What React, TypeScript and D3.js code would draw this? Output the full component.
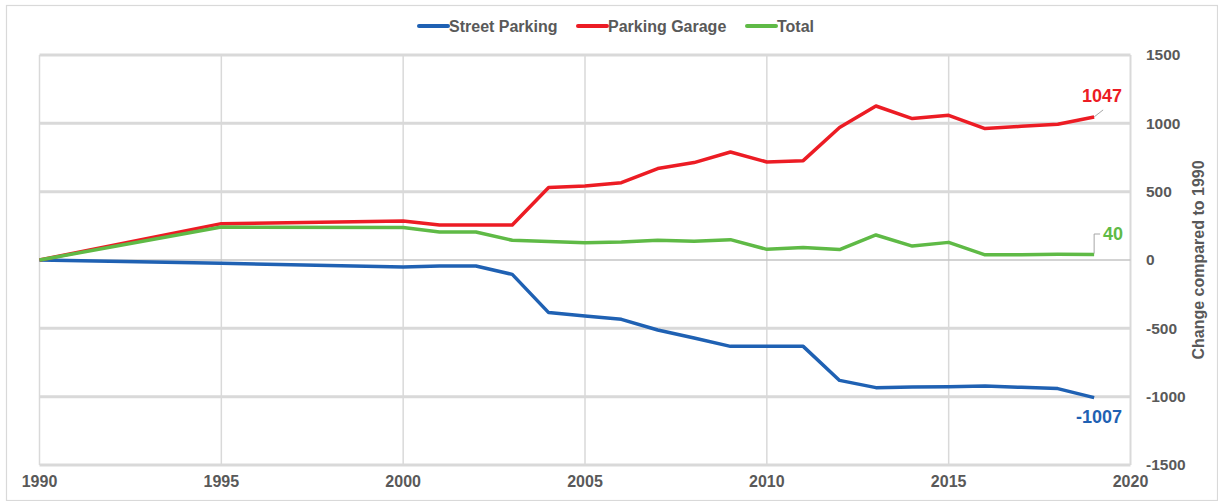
import React from "react";
import * as d3 from "d3";

const years = [1990, 1995, 2000, 2001, 2002, 2003, 2004, 2005, 2006, 2007, 2008, 2009, 2010, 2011, 2012, 2013, 2014, 2015, 2016, 2017, 2018, 2019];
const streetParking = [0, -24, -51, -44, -44, -105, -385, -410, -434, -512, -571, -632, -632, -632, -881, -934, -930, -927, -922, -932, -941, -1007];
const parkingGarage = [0, 266, 286, 256, 256, 256, 530, 541, 566, 669, 713, 790, 717, 727, 969, 1127, 1035, 1059, 962, 978, 993, 1047];
const total = [0, 241, 237, 205, 205, 144, 135, 127, 132, 144, 137, 149, 78, 91, 76, 183, 102, 129, 38, 39, 42, 40];

const xTicks = [1990, 1995, 2000, 2005, 2010, 2015, 2020];
const yTicks = [1500, 1000, 500, 0, -500, -1000, -1500];

const seriesNames = ["Street Parking", "Parking Garage", "Total"];
const seriesColors = ["#1f61b3", "#ec1c24", "#5fba46"];
const seriesData = [streetParking, parkingGarage, total];

const W = 1218;
const H = 501;
const TEXT = "#595959";
const FONT = "Liberation Sans, Arial, sans-serif";

export default function App() {
  const x = d3.scaleLinear().domain([1990, 2020]).range([39.5, 1130.5]);
  const y = d3.scaleLinear().domain([-1500, 1500]).range([465, 55]);

  const line = d3
    .line<[number, number]>()
    .x((d) => x(d[0]))
    .y((d) => y(d[1]));

  const lastIdx = years.length - 1;
  const lx = x(years[lastIdx]);

  const legendX = [419, 578, 747];

  return (
    <div style={{ position: "absolute", left: 0, top: 0 }}>
      <svg width={W} height={H} style={{ display: "block", fontFamily: FONT }}>
        <rect x={0} y={0} width={W} height={H} fill="#ffffff" />
        <rect x={6.5} y={5.5} width={W - 7} height={H - 6} fill="none" stroke="#d9d9d9" strokeWidth={1.2} />

        {/* vertical gridlines */}
        {xTicks.map((t) => (
          <line
            key={"vx" + t}
            x1={x(t)}
            x2={x(t)}
            y1={y(1500)}
            y2={y(-1500)}
            stroke="#d9d9d9"
            strokeWidth={t === 2020 ? 2 : 1.5}
          />
        ))}
        {/* horizontal gridlines */}
        {yTicks.map((t) => (
          <line
            key={"hy" + t}
            x1={x(1990)}
            x2={x(2020)}
            y1={y(t)}
            y2={y(t)}
            stroke={t === 0 ? "#c4c4c4" : "#d9d9d9"}
            strokeWidth={t === 0 ? 1.5 : 3}
          />
        ))}

        {/* x tick labels */}
        {xTicks.map((t) => (
          <text
            key={"xl" + t}
            x={x(t)}
            y={481}
            dy="0.35em"
            textAnchor="middle"
            fontSize={16}
            fontWeight="bold"
            fill={TEXT}
          >
            {t}
          </text>
        ))}
        {/* right y tick labels */}
        {yTicks.map((t) => (
          <text
            key={"yl" + t}
            x={1146}
            y={y(t)}
            dy="0.35em"
            textAnchor="start"
            fontSize={15.5}
            fontWeight="bold"
            fill={TEXT}
          >
            {t}
          </text>
        ))}
        <text
          transform={`translate(1198,${y(0)}) rotate(-90)`}
          textAnchor="middle"
          dy="0.35em"
          fontSize={16}
          fontWeight="bold"
          fill={TEXT}
        >
          Change compared to 1990
        </text>

        {/* lines */}
        {seriesData.map((vals, i) => (
          <path
            key={"s" + i}
            d={line(years.map((yr, j) => [yr, vals[j]] as [number, number])) || ""}
            fill="none"
            stroke={seriesColors[i]}
            strokeWidth={3.5}
            strokeLinejoin="round"
          />
        ))}

        {/* end labels */}
        <line
          x1={lx}
          y1={y(parkingGarage[lastIdx])}
          x2={lx + 9}
          y2={y(parkingGarage[lastIdx]) - 7}
          stroke="#a6a6a6"
          strokeWidth={1}
        />
        <text x={1122} y={96} dy="0.35em" textAnchor="end" fontSize={18} fontWeight="bold" fill={seriesColors[1]}>
          {parkingGarage[lastIdx]}
        </text>

        <polyline
          points={`${lx},${y(total[lastIdx]) - 1} ${lx},${234} ${lx + 6},${234}`}
          fill="none"
          stroke="#a6a6a6"
          strokeWidth={1}
        />
        <text x={1123} y={234} dy="0.35em" textAnchor="end" fontSize={18} fontWeight="bold" fill={seriesColors[2]}>
          {total[lastIdx]}
        </text>

        <text x={1122} y={417} dy="0.35em" textAnchor="end" fontSize={18} fontWeight="bold" fill={seriesColors[0]}>
          {streetParking[lastIdx]}
        </text>

        {/* legend */}
        {seriesNames.map((n, i) => (
          <g key={"lg" + i}>
            <line
              x1={legendX[i]}
              x2={legendX[i] + 29}
              y1={26}
              y2={26}
              stroke={seriesColors[i]}
              strokeWidth={4}
              strokeLinecap="round"
            />
            <text x={legendX[i] + 30} y={26} dy="0.35em" fontSize={16} fontWeight="bold" fill={TEXT}>
              {n}
            </text>
          </g>
        ))}
      </svg>
    </div>
  );
}
